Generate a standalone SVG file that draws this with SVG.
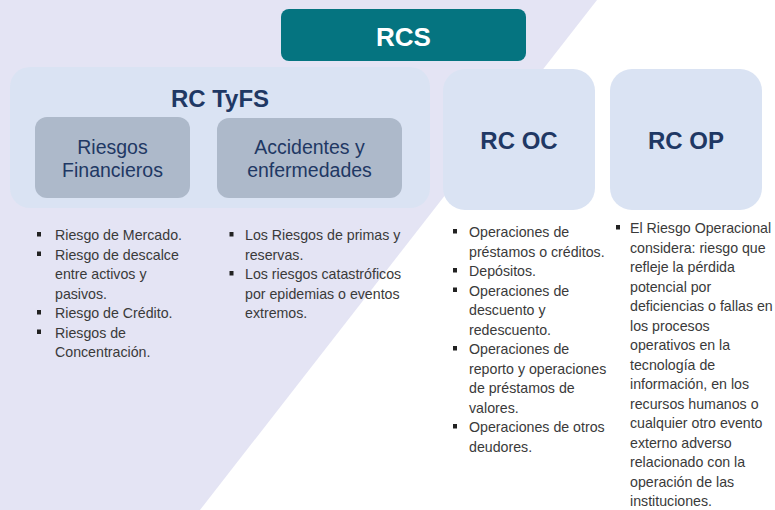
<svg xmlns="http://www.w3.org/2000/svg" width="775" height="510" viewBox="0 0 775 510">
<defs>
<style>
.bg{fill:#ffffff}
.lav{fill:#e4e4f4}
.panel{fill:#dae3f3}
.sub{fill:#adb9ca}
.rcs{fill:#057480}
.title{font-family:"Liberation Sans",Arial,sans-serif;font-weight:bold;fill:#1f3864;text-anchor:middle}
.subt{font-family:"Liberation Sans",Arial,sans-serif;font-size:19.5px;fill:#1f3864;text-anchor:middle}
.body{font-family:"Liberation Sans",Arial,sans-serif;font-size:14.2px;fill:#3a3a3a}
.bul{fill:#222222}
</style>
<linearGradient id="edge" x1="0" y1="0" x2="1" y2="0">
<stop offset="0" stop-color="#e4e4f4"/>
<stop offset="0.93" stop-color="#e4e4f4"/>
<stop offset="1" stop-color="#ececf6"/>
</linearGradient>
</defs>
<rect class="bg" x="0" y="0" width="775" height="510"/>
<polygon class="lav" points="0,0 597,0 200,510 0,510"/>

<g id="connectors"/>

<g id="rcs">
<rect class="rcs" x="281" y="9" width="245" height="52" rx="8"/>
<text x="403.5" y="46" font-family="Liberation Sans, Arial, sans-serif" font-weight="bold" font-size="26" fill="#ffffff" text-anchor="middle">RCS</text>
</g>

<g id="rc-tyfs">
<rect class="panel" x="10" y="67" width="420" height="141" rx="20"/>
<text class="title" x="220" y="107" font-size="24">RC TyFS</text>
</g>

<g id="riesgos-financieros">
<rect class="sub" x="35" y="117" width="155" height="81" rx="12"/>
<text class="subt" x="112.5" y="154">Riesgos</text>
<text class="subt" x="112.5" y="177">Financieros</text>
</g>

<g id="accidentes">
<rect class="sub" x="217" y="118" width="185" height="80" rx="12"/>
<text class="subt" x="309.5" y="154">Accidentes y</text>
<text class="subt" x="309.5" y="177">enfermedades</text>
</g>

<g id="rc-oc">
<rect class="panel" x="443" y="69" width="152" height="141" rx="22"/>
<text class="title" x="519" y="149" font-size="24">RC OC</text>
</g>

<g id="rc-op">
<rect class="panel" x="610" y="69" width="152" height="141" rx="22"/>
<text class="title" x="686" y="149" font-size="24">RC OP</text>
</g>

<g id="list-financieros">
<rect class="bul" x="37" y="232" width="4" height="4.5"/>
<rect class="bul" x="37" y="251.5" width="4" height="4.5"/>
<rect class="bul" x="37" y="310" width="4" height="4.5"/>
<rect class="bul" x="37" y="329.5" width="4" height="4.5"/>
<text class="body">
<tspan x="55" y="240">Riesgo de Mercado.</tspan>
<tspan x="55" y="259.5">Riesgo de descalce</tspan>
<tspan x="55" y="279">entre activos y</tspan>
<tspan x="55" y="298.5">pasivos.</tspan>
<tspan x="55" y="318">Riesgo de Crédito.</tspan>
<tspan x="55" y="337.5">Riesgos de</tspan>
<tspan x="55" y="357">Concentración.</tspan>
</text>
</g>

<g id="list-accidentes">
<rect class="bul" x="229.5" y="232" width="4" height="4.5"/>
<rect class="bul" x="229.5" y="271" width="4" height="4.5"/>
<text class="body">
<tspan x="245" y="240">Los Riesgos de primas y</tspan>
<tspan x="245" y="259.5">reservas.</tspan>
<tspan x="245" y="279">Los riesgos catastróficos</tspan>
<tspan x="245" y="298.5">por epidemias o eventos</tspan>
<tspan x="245" y="318">extremos.</tspan>
</text>
</g>

<g id="list-oc">
<rect class="bul" x="453" y="229" width="4" height="4.5"/>
<rect class="bul" x="453" y="268" width="4" height="4.5"/>
<rect class="bul" x="453" y="287.5" width="4" height="4.5"/>
<rect class="bul" x="453" y="346" width="4" height="4.5"/>
<rect class="bul" x="453" y="424" width="4" height="4.5"/>
<text class="body">
<tspan x="469" y="237">Operaciones de</tspan>
<tspan x="469" y="256.5">préstamos o créditos.</tspan>
<tspan x="469" y="276">Depósitos.</tspan>
<tspan x="469" y="295.5">Operaciones de</tspan>
<tspan x="469" y="315">descuento y</tspan>
<tspan x="469" y="334.5">redescuento.</tspan>
<tspan x="469" y="354">Operaciones de</tspan>
<tspan x="469" y="373.5">reporto y operaciones</tspan>
<tspan x="469" y="393">de préstamos de</tspan>
<tspan x="469" y="412.5">valores.</tspan>
<tspan x="469" y="432">Operaciones de otros</tspan>
<tspan x="469" y="451.5">deudores.</tspan>
</text>
</g>

<g id="list-op">
<rect class="bul" x="616" y="225" width="4" height="4.5"/>
<text class="body">
<tspan x="630" y="233">El Riesgo Operacional</tspan>
<tspan x="630" y="252.5">considera: riesgo que</tspan>
<tspan x="630" y="272">refleje la pérdida</tspan>
<tspan x="630" y="291.5">potencial por</tspan>
<tspan x="630" y="311">deficiencias o fallas en</tspan>
<tspan x="630" y="330.5">los procesos</tspan>
<tspan x="630" y="350">operativos en la</tspan>
<tspan x="630" y="369.5">tecnología de</tspan>
<tspan x="630" y="389">información, en los</tspan>
<tspan x="630" y="408.5">recursos humanos o</tspan>
<tspan x="630" y="428">cualquier otro evento</tspan>
<tspan x="630" y="447.5">externo adverso</tspan>
<tspan x="630" y="467">relacionado con la</tspan>
<tspan x="630" y="486.5">operación de las</tspan>
<tspan x="630" y="506">instituciones.</tspan>
</text>
</g>
</svg>
